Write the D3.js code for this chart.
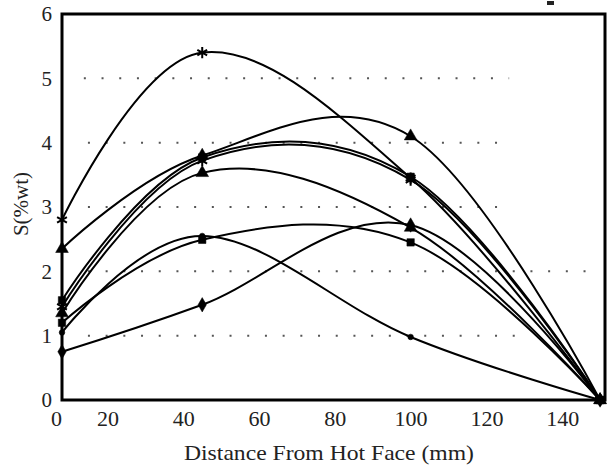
<!DOCTYPE html>
<html>
<head>
<meta charset="utf-8">
<script src="https://cdn.jsdelivr.net/npm/d3@7"></script>
</head>
<body style="margin:0;background:#fff">
<svg id="chart" width="608" height="465" font-family="Liberation Serif"></svg>
<script>
// ---- data ----
const distance = [0, 45, 100, 150];           // mm from hot face
const xTicks = [0, 20, 40, 60, 80, 100, 120, 140];
const yTicks = [0, 1, 2, 3, 4, 5, 6];
const gridLevels = [1, 2, 3, 4, 5];
const gridStart = [11.4, 11.4, 11.4, 11.4, 9.6];
const gridEnd = [130, 148.5, 126, 126, 126];

const s1 = [2.8, 5.4, 3.45, 0];   // asterisk
const s2 = [2.35, 3.8, 4.1, 0];   // triangle (top)
const s3 = [1.55, 3.77, 3.47, 0]; // square
const s4 = [1.45, 3.72, 3.42, 0]; // asterisk
const s5 = [1.35, 3.53, 2.68, 0]; // triangle
const s6 = [1.2, 2.49, 2.45, 0];  // square
const s7 = [1.05, 2.55, 0.98, 0]; // circle
const s8 = [0.75, 1.48, 2.72, 0]; // diamond
const seriesValues = [s1, s2, s3, s4, s5, s6, s7, s8];
const seriesMarkers = ["asterisk", "triangle", "square", "asterisk", "triangle", "square", "circle", "diamond"];

const xLabel = "Distance From Hot Face (mm)";
const yLabel = "S(%wt)";

// ---- drawing ----
const svg = d3.select("#chart");
const L = 62, R = 605, T = 14, B = 400;

const x = d3.scaleLinear().domain([0, 20, 151.3]).range([L, 107.5, R]);
const y = d3.scaleLinear().domain([0, 6]).range([B, T]);

// dotted grid lines
svg.append("g").selectAll("line").data(gridLevels).join("line")
  .attr("x1", (d, i) => x(gridStart[i]))
  .attr("x2", (d, i) => x(gridEnd[i]))
  .attr("y1", d => y(d)).attr("y2", d => y(d))
  .attr("stroke", "#555").attr("stroke-width", 2)
  .attr("stroke-dasharray", "2,15.7");

// curves
const line = d3.line()
  .x(d => x(d[0])).y(d => y(d[1]))
  .curve(d3.curveCardinal.tension(-0.1));

const gSeries = svg.append("g");
seriesValues.forEach((vals) => {
  const pts = distance.map((d, i) => [d, vals[i]]);
  gSeries.append("path")
    .attr("d", line(pts))
    .attr("fill", "none")
    .attr("stroke", "#000")
    .attr("stroke-width", 2);
});

// markers
const symType = {
  triangle: d3.symbolTriangle,
  square: d3.symbolSquare,
  diamond: d3.symbolDiamond,
  circle: d3.symbolCircle,
  asterisk: d3.symbolAsterisk || d3.symbolCross
};
const symSize = { triangle: 70, square: 55, diamond: 60, circle: 25, asterisk: 90 };
const gMarks = svg.append("g");
seriesValues.forEach((vals, si) => {
  const m = seriesMarkers[si];
  const stroked = m === "asterisk" && d3.symbolAsterisk;
  gMarks.selectAll(null).data(distance.map((d, i) => [d, vals[i]])).join("path")
    .attr("transform", d => `translate(${x(d[0])},${y(d[1])})`)
    .attr("d", d3.symbol().type(symType[m]).size(symSize[m]))
    .attr("fill", stroked ? "none" : "#000")
    .attr("stroke", "#000")
    .attr("stroke-width", stroked ? 2 : 0.5);
});

// frame
svg.append("rect")
  .attr("x", L).attr("y", T).attr("width", R - L).attr("height", B - T)
  .attr("fill", "none").attr("stroke", "#000").attr("stroke-width", 3);

// axes (labels only)
const xAxis = svg.append("g").attr("transform", `translate(0,${B})`)
  .call(d3.axisBottom(x).tickValues(xTicks).tickSize(0).tickPadding(10).tickFormat(d3.format("d")));
xAxis.attr("font-family", "Liberation Serif").attr("font-size", 22);
xAxis.select(".domain").remove();
xAxis.selectAll("text").attr("font-family", "Liberation Serif").attr("font-size", 22).attr("fill", "#222");
xAxis.selectAll(".tick").filter(d => d === 0).select("text").attr("dx", -6);

const yAxis = svg.append("g").attr("transform", `translate(${L},0)`)
  .call(d3.axisLeft(y).tickValues(yTicks).tickSize(0).tickPadding(10).tickFormat(d3.format("d")));
yAxis.attr("font-family", "Liberation Serif").attr("font-size", 21);
yAxis.select(".domain").remove();
yAxis.selectAll("text").attr("font-family", "Liberation Serif").attr("font-size", 21).attr("fill", "#222");

// axis titles
svg.append("text")
  .attr("x", 329).attr("y", 460)
  .attr("text-anchor", "middle")
  .attr("font-family", "Liberation Serif")
  .attr("font-size", 22)
  .attr("fill", "#222")
  .attr("textLength", 290).attr("lengthAdjust", "spacingAndGlyphs")
  .text(xLabel);

svg.append("text")
  .attr("transform", "translate(28,204) rotate(-90)")
  .attr("text-anchor", "middle")
  .attr("font-family", "Liberation Serif")
  .attr("font-size", 21)
  .attr("fill", "#222")
  .text(yLabel);

// small stray mark at top right of the original figure
svg.append("rect").attr("x", 547).attr("y", 1).attr("width", 7).attr("height", 4).attr("fill", "#222");
</script>
</body>
</html>
